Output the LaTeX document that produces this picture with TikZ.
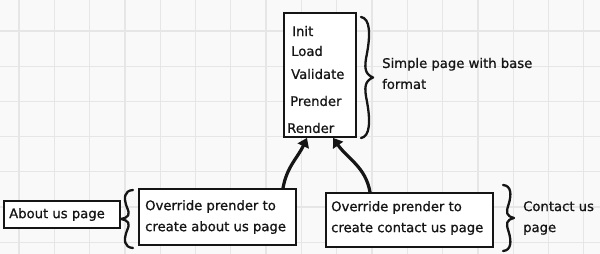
\documentclass[tikz,border=0pt]{standalone}
\usepackage{fontspec}
\setmainfont{DejaVu Sans}
\newfontfamily\inkfont{DejaVu Sans}[FakeBold=0.8]
\usetikzlibrary{arrows.meta}
\definecolor{paper}{HTML}{F9F9F9}
\definecolor{gridline}{HTML}{E6E6E6}
\definecolor{ink}{HTML}{151515}
\tikzset{
  sketchbox/.style={draw=ink, line width=1.8pt, fill=white, inner sep=0pt},
  label/.style={text=ink, font=\inkfont\fontsize{13.2}{21}\selectfont, inner sep=0pt, anchor=west, align=left},
  link/.style={draw=ink, line width=3.2pt, -{Triangle[length=9pt,width=12pt]}},
  % hand-drawn curly brace of unit height, cusp at x=1
  curly/.pic={
    \draw[ink, line width=2.3pt, line cap=round, line join=round]
      (0,0.5) .. controls (0.75,0.49) and (0.8,0.36) .. (0.5,0.2)
      .. controls (0.25,0.08) and (0.3,0.03) .. (1,0)
      .. controls (0.3,-0.03) and (0.25,-0.08) .. (0.5,-0.2)
      .. controls (0.8,-0.36) and (0.75,-0.49) .. (0,-0.5);
  },
}
\begin{document}
\begin{tikzpicture}[x=1pt,y=1pt]
  % paper with light grid
  \fill[paper] (0,0) rectangle (600,254);
  \useasboundingbox (0,0) rectangle (600,254);
  \foreach \k in {0,...,16} {
    \draw[gridline, line width=1.3pt] ({19+35.3*\k},0) -- ({19+35.3*\k},254);
  }
  \foreach \k in {0,...,6} {
    \draw[gridline, line width=1.3pt] (0,{223-35.2*\k}) -- (600,{223-35.2*\k});
  }

  % base page with its lifecycle steps
  \node[sketchbox, minimum width=72pt, minimum height=124pt] (base) at (320,179) {};
  \node[label] (init) at (292,223) {Init};
  \node[label] (load) at (291,203) {Load};
  \node[label] (validate) at (291,180) {Validate};
  \node[label] (prender) at (290,153) {Prender};
  \node[label] (render) at (287,126) {Render};

  \pic[xscale=12, yscale=121] (bracebase) at (361,176.5) {curly};
  \node[label] (basenote) at (382,180.5) {Simple page with base\\format};

  % about us page
  \node[sketchbox, minimum width=116pt, minimum height=27pt] (about) at (62,39.5) {};
  \node[label] (abouttext) at (9,39.5) {About us page};
  \pic[xscale=-12, yscale=58] (braceabout) at (133,35) {curly};
  \node[sketchbox, minimum width=157pt, minimum height=56pt] (aboutov) at (217.5,37) {};
  \node[label] (aboutovtext) at (145,37) {Override prender to\\create about us page};

  % contact us page
  \node[sketchbox, minimum width=167pt, minimum height=54pt] (contactov) at (409.5,34) {};
  \node[label] (contactovtext) at (331,36) {Override prender to\\create contact us page};
  \pic[xscale=11, yscale=66] (bracecontact) at (503,36) {curly};
  \node[label] (contactnote) at (523,36) {Contact us\\page};

  % overrides point back to the base page
  \draw[link] (aboutov.north -| 283,0) to[out=80, in=245] (base.south -| 307,0);
  \draw[link] (contactov.north -| 370,0) to[out=100, in=-55] (base.south -| 333,0);
\end{tikzpicture}
\end{document}
